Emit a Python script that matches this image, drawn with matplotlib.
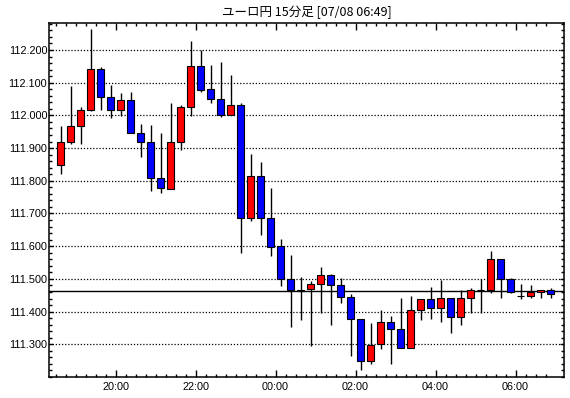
import matplotlib
matplotlib.use('Agg')
import matplotlib.pyplot as plt
import numpy as np
import pandas as pd

# 15-minute EUR/JPY bars, 07/07 18:30 -> 07/08 06:45
bar_times = pd.date_range('2018-07-07 18:30', periods=50, freq='15min')

opens = [111.848, 111.919, 111.968, 112.016, 112.141, 112.055, 112.016, 112.047, 111.945, 111.919,
         111.809, 111.776, 111.919, 112.025, 112.150, 112.080, 112.049, 112.000, 112.031, 111.687,
         111.816, 111.687, 111.600, 111.500, 111.467, 111.468, 111.484, 111.512, 111.481, 111.444,
         111.376, 111.248, 111.300, 111.367, 111.346, 111.288, 111.406, 111.437, 111.410, 111.440,
         111.382, 111.440, 111.467, 111.467, 111.562, 111.501, 111.449, 111.449, 111.459, 111.467]
highs = [111.969, 112.090, 112.025, 112.264, 112.147, 112.092, 112.069, 112.073, 111.975, 111.971,
         111.946, 112.039, 112.031, 112.227, 112.199, 112.154, 112.163, 112.124, 112.038, 111.882,
         111.856, 111.777, 111.621, 111.572, 111.507, 111.492, 111.535, 111.516, 111.504, 111.455,
         111.376, 111.365, 111.405, 111.386, 111.440, 111.447, 111.437, 111.475, 111.496, 111.440,
         111.465, 111.473, 111.501, 111.585, 111.562, 111.503, 111.484, 111.481, 111.467, 111.473]
lows = [111.822, 111.914, 111.912, 112.012, 112.018, 111.991, 111.997, 111.945, 111.872, 111.769,
        111.763, 111.776, 111.893, 111.997, 112.070, 112.037, 111.994, 112.000, 111.579, 111.677,
        111.634, 111.569, 111.477, 111.354, 111.373, 111.296, 111.397, 111.360, 111.425, 111.265,
        111.220, 111.241, 111.285, 111.241, 111.288, 111.288, 111.375, 111.378, 111.369, 111.335,
        111.359, 111.397, 111.397, 111.457, 111.440, 111.457, 111.437, 111.440, 111.440, 111.440]
closes = [111.919, 111.968, 112.016, 112.141, 112.055, 112.016, 112.047, 111.945, 111.919, 111.809,
          111.779, 111.919, 112.025, 112.150, 112.079, 112.049, 112.000, 112.031, 111.687, 111.816,
          111.687, 111.598, 111.500, 111.465, 111.463, 111.484, 111.512, 111.480, 111.444, 111.377,
          111.248, 111.299, 111.367, 111.346, 111.288, 111.406, 111.437, 111.412, 111.440, 111.382,
          111.440, 111.466, 111.467, 111.562, 111.501, 111.461, 111.449, 111.459, 111.467, 111.455]

current_price = 111.462
hour_labels = ['20:00', '22:00', '00:00', '02:00', '04:00', '06:00']
y_ticks = [111.3, 111.4, 111.5, 111.6, 111.7, 111.8, 111.9, 112.0, 112.1, 112.2]
title = 'ユーロ円 15分足 [07/08 06:49]'

plt.rcParams['font.family'] = ['Liberation Sans', 'DejaVu Sans']

fig = plt.figure(figsize=(5.7, 3.98), dpi=100)
ax = fig.add_axes([0.0865, 0.052, 0.9030, 0.891])

o = np.array(opens)
h = np.array(highs)
l = np.array(lows)
c = np.array(closes)
x = np.arange(len(o))

# up = red, down = blue
colors = ['#ff0000' if cc >= oo else '#0000ff' for oo, cc in zip(o, c)]

ax.vlines(x, l, h, color='black', linewidth=1.0, zorder=3)
ax.bar(x, np.abs(c - o), bottom=np.minimum(o, c), width=0.62, color=colors,
       edgecolor='black', linewidth=0.8, zorder=4)

ax.axhline(current_price, color='black', linewidth=1.0, zorder=2)

# grid only on price levels
ax.set_yticks(y_ticks)
ax.set_yticklabels(['{:.3f}'.format(v) for v in y_ticks])
ax.set_yticks(np.arange(111.2, 112.3, 0.02), minor=True)
ax.yaxis.grid(True, which='major', linestyle=(0, (1, 1.5)), color='black', linewidth=0.9)
ax.set_axisbelow(True)

# x ticks on bar boundaries
hhmm = [t.strftime('%H:%M') for t in bar_times]
major_pos = [hhmm.index(lab) - 0.5 for lab in hour_labels]
ax.set_xticks(major_pos)
ax.set_xticklabels(hour_labels)
ax.set_xticks(x - 0.5, minor=True)

ax.set_xlim(-1.12, 50.35)
ax.set_ylim(111.199, 112.2835)

ax.tick_params(axis='both', which='both', direction='in', top=True, right=True,
               labelsize=7.8, color='black', width=1.0)
ax.tick_params(axis='x', which='major', length=5, pad=3.5)
ax.tick_params(axis='x', which='minor', length=2.5)
ax.tick_params(axis='y', which='major', length=3, pad=1.5)
ax.tick_params(axis='y', which='minor', length=2.5)

for sp in ax.spines.values():
    sp.set_linewidth(1.1)

fig.text(0.538, 0.970, title, ha='center', va='center', fontsize=9,
         family=['Noto Sans CJK JP', 'DejaVu Sans'])

fig.savefig('out.png', dpi=100, facecolor='white')
